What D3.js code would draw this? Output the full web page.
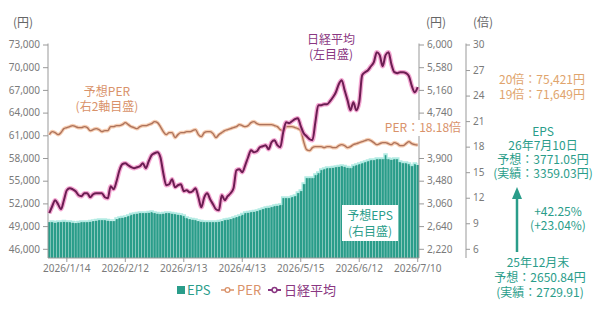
<!DOCTYPE html>
<html>
<head>
<meta charset="utf-8">
<script src="https://cdn.jsdelivr.net/npm/d3@7"></script>
<style>
  body { margin: 0; background: #fff; }
  svg { font-family: "Noto Sans CJK JP", "Noto Sans", sans-serif; }
</style>
</head>
<body>
<svg id="chart" width="600" height="310"></svg>
<script>
// trading days Jan 5 - Jul 10 2026 (TSE holidays removed)
const holidays = ['2026-01-12', '2026-02-11', '2026-02-23', '2026-03-20', '2026-04-29', '2026-05-04', '2026-05-05', '2026-05-06'];
const tickLabels = ['2026/1/14', '2026/2/12', '2026/3/13', '2026/4/13', '2026/5/15', '2026/6/12', '2026/7/10'];

const leftTicks = [46000, 49000, 52000, 55000, 58000, 61000, 64000, 67000, 70000, 73000];
// 4,320 sits under the PER label in the original, so it is left out
const epsTicks = [2220, 2640, 3060, 3480, 3900, 4740, 5160, 5580, 6000];
const perTicks = [6, 9, 12, 15, 18, 21, 24, 27, 30];

// 日経平均 (円)
const nikkei = [
  50700, 51620, 52420, 51890, 51230, 52420, 53740, 54000, 53870, 53610,
  53080, 52950, 53340, 53340, 52810, 53210, 53340, 53340, 53340, 52810,
  52680, 54270, 53870, 54930, 56380, 57180, 57310, 57040, 56780, 56650,
  56780, 56910, 57310, 56650, 57570, 58370, 58630, 58760, 58100, 55990,
  54400, 54530, 55190, 54140, 54400, 54530, 53610, 53740, 53470, 53610,
  54000, 52810, 51490, 52810, 53340, 52550, 51890, 51230, 51090, 53080,
  52420, 52950, 53340, 54000, 56380, 56510, 56120, 57040, 58100, 59030,
  58760, 58890, 59420, 59560, 59690, 59160, 60080, 60350, 59690, 59420,
  61410, 62730, 62600, 62860, 63130, 63260, 62200, 61270, 60880, 60480,
  60350, 62730, 64980, 64980, 65110, 65110, 65500, 66030, 66690, 67750,
  68280, 66960, 65640, 64320, 65370, 64320, 65370, 68940, 69340, 69600,
  70130, 70660, 71980, 71590, 70130, 71590, 71980, 70400, 69340, 69210,
  69340, 69340, 69210, 68810, 67490, 66690, 67360
];

// 予想PER (倍)
const per = [
  19.41, 19.76, 19.65, 19.41, 19.65, 20.12, 20.24, 20.35, 20.47, 20.35,
  20.24, 20.24, 20.35, 20.24, 19.88, 20.00, 20.12, 20.00, 19.76, 19.88,
  19.88, 20.35, 20.35, 20.47, 20.47, 20.59, 20.82, 20.59, 20.35, 20.24,
  20.12, 20.35, 20.47, 20.47, 20.59, 20.71, 20.94, 20.82, 20.35, 19.76,
  19.41, 19.65, 19.65, 19.06, 19.41, 19.65, 19.65, 19.76, 19.76, 19.88,
  20.00, 19.41, 19.18, 19.65, 19.76, 19.76, 19.53, 19.06, 19.41, 19.65,
  19.88, 20.00, 20.12, 20.24, 20.35, 20.59, 20.47, 20.35, 20.47, 20.82,
  20.94, 20.71, 20.59, 20.59, 20.59, 20.59, 20.59, 20.47, 20.35, 20.00,
  19.88, 20.35, 20.35, 20.35, 20.24, 20.12, 19.88, 18.59, 17.65, 17.53,
  17.88, 18.00, 18.00, 18.00, 17.88, 18.00, 18.00, 17.88, 17.88, 18.12,
  18.24, 18.12, 17.88, 18.00, 18.24, 18.35, 18.47, 18.59, 18.71, 18.82,
  18.71, 18.47, 18.24, 18.35, 18.47, 18.47, 18.35, 18.24, 18.47, 18.35,
  18.12, 18.12, 18.35, 18.59, 18.35, 18.24, 18.18
];

// 予想EPS (円)
const eps = [
  2714, 2714, 2705, 2714, 2714, 2723, 2714, 2714, 2705, 2696,
  2705, 2714, 2714, 2714, 2723, 2733, 2742, 2751, 2751, 2751,
  2742, 2733, 2733, 2770, 2788, 2797, 2807, 2825, 2853, 2862,
  2872, 2881, 2881, 2881, 2890, 2899, 2881, 2872, 2862, 2872,
  2881, 2881, 2872, 2862, 2853, 2844, 2825, 2788, 2770, 2761,
  2751, 2733, 2723, 2714, 2714, 2714, 2714, 2714, 2723, 2733,
  2751, 2761, 2770, 2788, 2807, 2825, 2853, 2881, 2890, 2899,
  2908, 2918, 2936, 2955, 2973, 2982, 2992, 3010, 3019, 3029,
  3158, 3158, 3158, 3177, 3195, 3251, 3288, 3417, 3528, 3528,
  3528, 3583, 3620, 3676, 3694, 3713, 3713, 3722, 3731, 3741,
  3750, 3741, 3722, 3713, 3750, 3768, 3787, 3805, 3824, 3842,
  3861, 3861, 3879, 3879, 3879, 3953, 3879, 3870, 3879, 3879,
  3824, 3805, 3805, 3787, 3750, 3787, 3771
];

const fmtKey = d3.timeFormat('%Y-%m-%d');
const fmtLabel = d3.timeFormat('%Y/%-m/%-d');
const dates = d3.timeDays(new Date(2026, 0, 5), new Date(2026, 6, 11))
  .filter((d) => d.getDay() % 6 !== 0 && !holidays.includes(fmtKey(d)))
  .map(fmtLabel);

const rows = dates.map((d, i) => ({ date: d, nikkei: nikkei[i], per: per[i], eps: eps[i] }));

const teal = '#2a9d8a';
const orange = '#d9926a';
const purple = '#8a3782';
const gray = '#7a7a7a';

const plotLeft = 48;
const plotRight = 419;
const axis2X = 466;
const plotTop = 44.5;
const tickBottom = 248.8;
const plotBottom = 258;

const svg = d3.select('#chart');

const x = d3.scaleBand().domain(dates).range([plotLeft, plotRight]).paddingInner(0.12);
const cx = (d) => x(d.date) + x.bandwidth() / 2;
const yL = d3.scaleLinear().domain([46000, 73000]).range([tickBottom, plotTop]);
const yE = d3.scaleLinear().domain([2220, 6000]).range([tickBottom, plotTop]);
const yP = d3.scaleLinear().domain([6, 30]).range([tickBottom, plotTop]);

// bars
svg.append('g')
  .selectAll('rect')
  .data(rows)
  .join('rect')
  .attr('x', (d) => x(d.date))
  .attr('y', (d) => yE(d.eps))
  .attr('width', x.bandwidth())
  .attr('height', (d) => plotBottom - yE(d.eps))
  .attr('fill', teal);

svg.append('path')
  .datum(rows)
  .attr('fill', 'none')
  .attr('stroke', '#9fe6dc')
  .attr('stroke-width', 1.6)
  .attr('stroke-opacity', 0.8)
  .attr('d', d3.line().x(cx).y((d) => yE(d.eps) - 1).curve(d3.curveStep));

// axes
function styleAxis(g) {
  g.select('.domain').remove();
  g.selectAll('line').attr('stroke', '#999');
  g.selectAll('text').attr('fill', gray).attr('font-size', 10)
    .attr('font-family', '"Noto Sans", sans-serif');
}

svg.append('g')
  .attr('transform', `translate(${plotLeft},0)`)
  .call(d3.axisLeft(yL).tickValues(leftTicks).tickFormat(d3.format(',')).tickSize(5).tickPadding(3))
  .call(styleAxis);

svg.append('g')
  .attr('transform', `translate(${plotRight},0)`)
  .call(d3.axisRight(yE).tickValues(epsTicks).tickFormat(d3.format(',')).tickSize(5).tickPadding(3))
  .call(styleAxis);

svg.append('g')
  .attr('transform', `translate(${axis2X},0)`)
  .call(d3.axisRight(yP).tickValues(perTicks).tickSize(4).tickPadding(3))
  .call(styleAxis);

svg.append('g')
  .attr('transform', `translate(0,${plotBottom})`)
  .call(d3.axisBottom(x).tickValues(tickLabels).tickSize(4).tickPadding(3))
  .call(styleAxis);

svg.append('g')
  .attr('stroke', '#999')
  .selectAll('line')
  .data([
    [plotLeft, plotTop - 1, plotLeft, plotBottom],
    [plotRight, plotTop - 1, plotRight, plotBottom],
    [axis2X, plotTop - 1, axis2X, plotBottom],
    [plotLeft, plotBottom, plotRight, plotBottom]
  ])
  .join('line')
  .attr('x1', (d) => d[0]).attr('y1', (d) => d[1])
  .attr('x2', (d) => d[2]).attr('y2', (d) => d[3]);

// lines
const perLine = d3.line().x(cx).y((d) => yP(d.per)).curve(d3.curveMonotoneX);
const nkLine = d3.line().x(cx).y((d) => yL(d.nikkei)).curve(d3.curveMonotoneX);

svg.append('path').datum(rows).attr('fill', 'none')
  .attr('stroke', '#f6cdb2').attr('stroke-width', 3.6).attr('d', perLine);
svg.append('path').datum(rows).attr('fill', 'none')
  .attr('stroke', '#ad735c').attr('stroke-width', 1.4).attr('d', perLine);

svg.append('path').datum(rows).attr('fill', 'none')
  .attr('stroke', '#f28cc6').attr('stroke-width', 4.6).attr('stroke-opacity', 0.75).attr('d', nkLine);
svg.append('path').datum(rows).attr('fill', 'none')
  .attr('stroke', '#6c1d52').attr('stroke-width', 2).attr('d', nkLine);

// texts
function label(txt, px, py, color, anchor = 'middle', size = 12) {
  return svg.append('text')
    .attr('x', px).attr('y', py)
    .attr('text-anchor', anchor)
    .attr('fill', color)
    .attr('font-size', size)
    .text(txt);
}

label('(円)', 23, 27, '#666', 'middle', 12);
label('(円)', 436, 27, '#666', 'middle', 12);
label('(倍)', 483, 27, '#666', 'middle', 12);

label('予想PER', 107, 96, orange);
label('(右2軸目盛)', 107, 111, orange);
label('日経平均', 331, 44, purple);
label('(左目盛)', 331, 59, purple);

svg.append('rect').attr('x', 382).attr('y', 120).attr('width', 82).attr('height', 16).attr('fill', '#fff');
label('PER：18.18倍', 423, 132, orange);

svg.append('rect').attr('x', 342).attr('y', 205).attr('width', 56).attr('height', 36).attr('fill', '#fff');
label('予想EPS', 370, 220, teal);
label('(右目盛)', 370, 236, teal);

const gold = '#e0a46c';
label('20倍：75,421円', 542, 84, gold);
label('19倍：71,649円', 542, 99, gold);

label('EPS', 543, 136, teal);
label('26年7月10日', 543, 150, teal);
label('予想：3771.05円', 543, 164, teal);
label('(実績：3359.03円)', 543, 178, teal);

svg.append('line')
  .attr('x1', 517).attr('y1', 252).attr('x2', 517).attr('y2', 197)
  .attr('stroke', teal).attr('stroke-width', 2.5);
svg.append('path')
  .attr('d', 'M517,187 L522,199 L512,199 Z')
  .attr('fill', teal);

label('+42.25%', 558, 216, teal);
label('(+23.04%)', 558, 230, teal);

label('25年12月末', 538, 267, teal);
label('予想：2650.84円', 540, 282, teal);
label('(実績：2729.91)', 540, 297, teal);

// legend
const lg = svg.append('g').attr('font-size', 13);
lg.append('rect').attr('x', 177).attr('y', 286).attr('width', 8).attr('height', 8).attr('fill', teal);
lg.append('text').attr('x', 187).attr('y', 295).attr('fill', teal).text('EPS');
lg.append('line').attr('x1', 221).attr('x2', 234).attr('y1', 290).attr('y2', 290).attr('stroke', orange).attr('stroke-width', 1.5);
lg.append('circle').attr('cx', 227.5).attr('cy', 290).attr('r', 2.4).attr('fill', '#fff').attr('stroke', orange).attr('stroke-width', 1.3);
lg.append('text').attr('x', 237).attr('y', 295).attr('fill', orange).text('PER');
lg.append('line').attr('x1', 268).attr('x2', 281).attr('y1', 290).attr('y2', 290).attr('stroke', purple).attr('stroke-width', 2);
lg.append('circle').attr('cx', 274.5).attr('cy', 290).attr('r', 2.4).attr('fill', '#fff').attr('stroke', purple).attr('stroke-width', 1.5);
lg.append('text').attr('x', 284).attr('y', 295).attr('fill', purple).text('日経平均');
</script>
</body>
</html>
